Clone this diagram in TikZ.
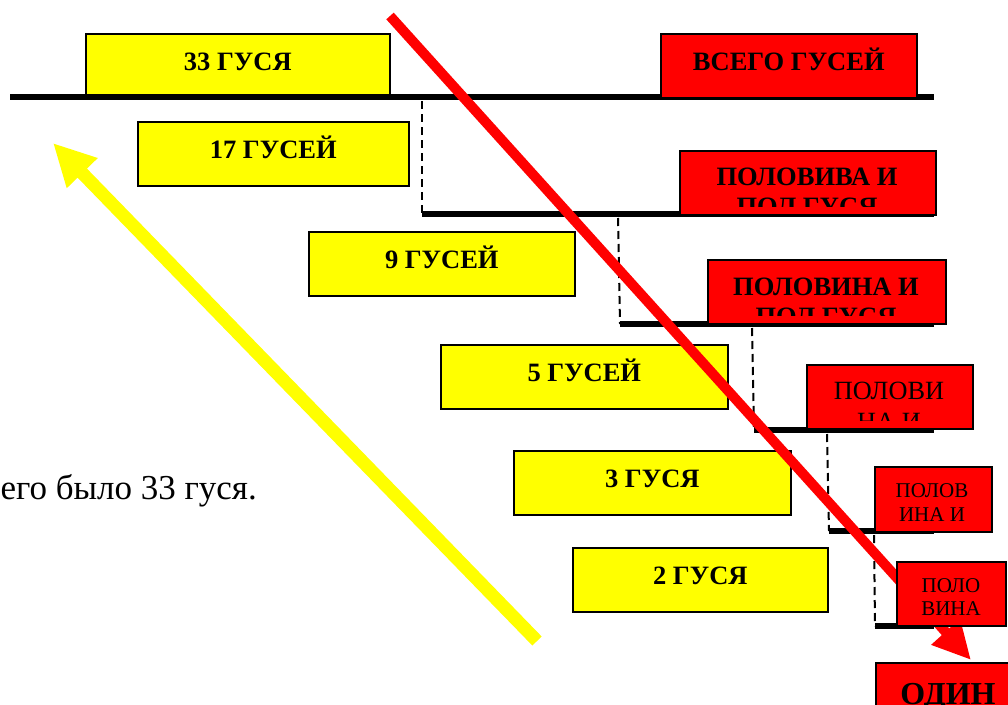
\documentclass[tikz,border=0pt]{standalone}
\usepackage{fontspec}
\setmainfont{Liberation Serif}
\usetikzlibrary{arrows.meta}
\definecolor{gooseyellow}{RGB}{255,255,0}
\definecolor{goosered}{RGB}{255,0,0}
\tikzset{
  box/.style={draw=black, line width=1.6pt, inner sep=0pt, anchor=north west},
  ybox/.style={box, fill=gooseyellow, text height=37pt, text depth=27pt,
               font=\fontsize{26.5}{30}\bfseries\selectfont},
  rbox/.style={box, fill=goosered},
  boldline/.style={font=\fontsize{26.5}{30}\bfseries\selectfont, inner sep=0pt, anchor=base},
  bigline/.style={font=\fontsize{26.3}{31}\selectfont, inner sep=0pt, anchor=base},
  smallline/.style={font=\fontsize{21}{24}\selectfont, inner sep=0pt, anchor=base},
  levelline/.style={line width=5.5pt, line cap=butt},
  dropline/.style={line width=2pt, dash pattern=on 8pt off 5pt},
}
\begin{document}
\begin{tikzpicture}[x=1pt, y=-1pt]
  \clip (0,0) rectangle (1008,704);
  \fill[white] (0,0) rectangle (1008,704);

  % yellow boxes: the goose counts
  \node[ybox, minimum width=304pt] (y33) at (85,33)  {33 ГУСЯ};
  \node[ybox, minimum width=271pt] (y17) at (137,121) {17 ГУСЕЙ};
  \node[ybox, minimum width=266pt] (y9)  at (308,231) {9 ГУСЕЙ};
  \node[ybox, minimum width=287pt] (y5)  at (440,344) {5 ГУСЕЙ};
  \node[ybox, minimum width=277pt] (y3)  at (513,450) {3 ГУСЯ};
  \node[ybox, minimum width=255pt] (y2)  at (572,547) {2 ГУСЯ};

  % staircase of levels
  \coordinate (l1a) at (10,97);   \coordinate (l1b) at (934,97);
  \coordinate (l2a) at (422,214); \coordinate (l2b) at (934,214);
  \coordinate (l3a) at (620,324); \coordinate (l3b) at (934,324);
  \coordinate (l4a) at (754,430); \coordinate (l4b) at (934,430);
  \coordinate (l5a) at (829,531); \coordinate (l5b) at (934,531);
  \coordinate (l6a) at (875,626); \coordinate (l6b) at (934,626);
  \foreach \i in {1,...,6} \draw[levelline] (l\i a) -- (l\i b);

  \coordinate (d1) at (422,101);
  \coordinate (d2) at (618,218);
  \coordinate (d3) at (752,328);
  \coordinate (d4) at (827,434);
  \coordinate (d5) at (874,535);
  \draw[dropline] (d1) -- (l2a);
  \draw[dropline] (d2) -- (l3a);
  \draw[dropline] (d3) -- (l4a);
  \draw[dropline] (d4) -- (l5a);
  \draw[dropline] (d5) -- (l6a);

  % left caption
  \node[anchor=base east, inner sep=0pt, font=\fontsize{35}{40}\selectfont] (total) at (257,499) {его было 33 гуся.};

  % yellow arrow back up
  \coordinate (ya) at (537,641);
  \coordinate (yb) at (53,143);
  \draw[gooseyellow, line width=13pt, -{Triangle[length=42pt, width=40pt]}] (ya) -- (yb);

  % red arrow down
  \coordinate (ra) at (390,16);
  \coordinate (rb) at (971,660);
  \draw[goosered, line width=10pt, -{Triangle[length=38pt, width=36pt]}] (ra) -- (rb);

  % red boxes: the halves
  \node[rbox, minimum width=256pt, minimum height=64pt, text height=37pt, text depth=27pt,
        font=\fontsize{26.5}{30}\bfseries\selectfont] (r0) at (660,33) {ВСЕГО ГУСЕЙ};

  \node[rbox, minimum width=256pt, minimum height=64pt] (r1) at (679,150) {};
  \begin{scope}
    \clip (r1.north west) rectangle (935,206);
    \node[boldline] (r1a) at (807,185) {ПОЛОВИВА И};
    \node[boldline] (r1b) at (807,215) {ПОЛ ГУСЯ};
  \end{scope}

  \node[rbox, minimum width=238pt, minimum height=64pt] (r2) at (707,259) {};
  \begin{scope}
    \clip (r2.north west) rectangle (945,315);
    \node[boldline] (r2a) at (826,295) {ПОЛОВИНА И};
    \node[boldline] (r2b) at (826,325) {ПОЛ ГУСЯ};
  \end{scope}

  \node[rbox, minimum width=166pt, minimum height=64pt] (r3) at (806,364) {};
  \begin{scope}
    \clip (r3.north west) rectangle (972,420);
    \node[bigline] (r3a) at (889,399) {ПОЛОВИ};
    \node[bigline] (r3b) at (889,430) {НА И};
  \end{scope}

  \node[rbox, minimum width=117pt, minimum height=65pt] (r4) at (874,466) {};
  \node[smallline] (r4a) at (932,497) {ПОЛОВ};
  \node[smallline] (r4b) at (932,521) {ИНА И};

  \node[rbox, minimum width=109pt, minimum height=64pt] (r5) at (896,561) {};
  \node[smallline] (r5a) at (951,592) {ПОЛО};
  \node[smallline] (r5b) at (951,615) {ВИНА};

  \node[rbox, minimum width=146pt, minimum height=80pt] (r6) at (875,662) {};
  \node[font=\fontsize{32}{36}\bfseries\selectfont, inner sep=0pt, anchor=base] (r6a) at (948,704) {ОДИН};
\end{tikzpicture}
\end{document}
